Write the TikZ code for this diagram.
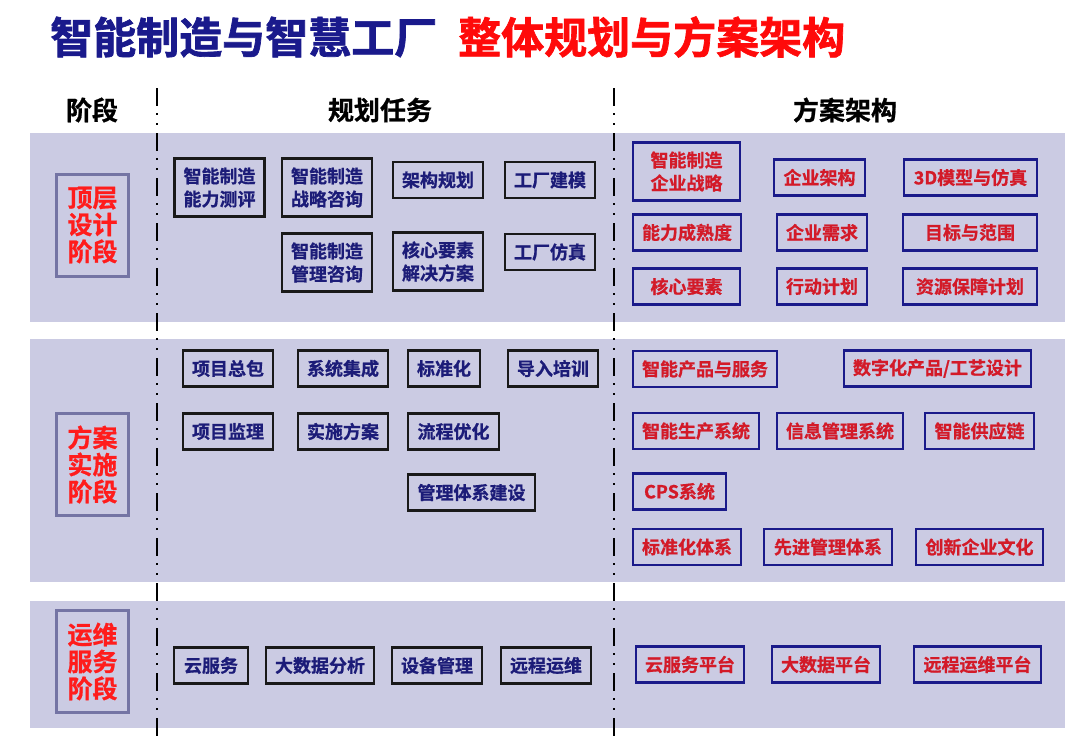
\documentclass[tikz,border=0pt]{standalone}
\usepackage{fontspec}
\setmainfont{Noto Sans CJK SC}[BoldFont={Noto Sans CJK SC Bold}]
\newfontfamily\heavyfont{Noto Sans CJK SC Bold}[FakeBold=1.6]
\newfontfamily\boxfont{Noto Sans CJK SC Bold}[FakeBold=0.8]
\usepackage{xcolor}

\definecolor{bandfill}{HTML}{CBCBE3}
\definecolor{stageline}{HTML}{7474A4}
\definecolor{stagered}{HTML}{FF1C1C}
\definecolor{tasknavy}{HTML}{1C1C78}
\definecolor{archred}{HTML}{D31A28}
\definecolor{archline}{HTML}{1A1A8A}
\definecolor{titleblue}{HTML}{1A1A8C}
\definecolor{titlered}{HTML}{FF0A0A}

\begin{document}
\begin{tikzpicture}[x=1pt, y=-1pt,
    band/.style={fill=bandfill, draw=none},
    divider/.style={line width=2pt, dash pattern=on 18pt off 7pt on 2pt off 8pt on 2pt off 8pt},
    stagebox/.style={draw=stageline, line width=3pt, fill=bandfill, text=stagered,
        font=\boxfont\fontsize{25}{27}\selectfont, align=center, inner sep=0pt,
        minimum width=72pt, minimum height=102pt},
    taskbox/.style={draw=black!90, line width=2.5pt, fill=bandfill, text=tasknavy,
        font=\boxfont\fontsize{18}{23}\selectfont, align=center, inner sep=0pt,
        minimum width=90pt, minimum height=36pt},
    archbox/.style={draw=archline, line width=2.5pt, fill=bandfill, text=archred,
        font=\boxfont\fontsize{18}{23}\selectfont, align=center, inner sep=0pt,
        minimum height=36pt},
    tall/.style={minimum height=58pt},
    header/.style={font=\boxfont\fontsize{26}{28}\selectfont}
]
    \useasboundingbox (0,0) rectangle (1080,748);

    % Title
    \node[anchor=west, text=titleblue, font=\heavyfont\fontsize{43}{44}\selectfont, inner sep=0pt]
        (titleL) at (50,37) {智能制造与智慧工厂};
    \node[anchor=west, text=titlered, font=\heavyfont\fontsize{43}{44}\selectfont, inner sep=0pt]
        (titleR) at (458,37) {整体规划与方案架构};

    % Column headers
    \node[header] (hStage) at (92,110) {阶段};
    \node[header] (hTask) at (380,110) {规划任务};
    \node[header] (hArch) at (845,110) {方案架构};

    % Bands
    \fill[band] (30,133) rectangle (1065,322);
    \fill[band] (30,339) rectangle (1065,582);
    \fill[band] (30,601) rectangle (1065,728);

    % Dividers
    \draw[divider] (157,88) -- (157,740);
    \draw[divider] (614,88) -- (614,740);

    % Stages
    \node[stagebox] (sTop) at (92.5,225) {顶层\\设计\\阶段};
    \node[stagebox] (sImpl) at (92.5,464.5) {方案\\实施\\阶段};
    \node[stagebox] (sOps) at (92.5,661.5) {运维\\服务\\阶段};

    % Tasks: top-level design
    \node[taskbox, tall] (tEval) at (219.5,187.5) {智能制造\\能力测评};
    \node[taskbox, tall] (tStrat) at (327,187.5) {智能制造\\战略咨询};
    \node[taskbox] (tArch) at (438,180) {架构规划};
    \node[taskbox] (tModel) at (550,180) {工厂建模};
    \node[taskbox, tall] (tMgmt) at (327,262.5) {智能制造\\管理咨询};
    \node[taskbox, tall] (tCore) at (438,261.5) {核心要素\\解决方案};
    \node[taskbox] (tSim) at (550,252) {工厂仿真};

    % Tasks: implementation
    \node[taskbox] (tEpc) at (228,368.5) {项目总包};
    \node[taskbox] (tInteg) at (343,368.5) {系统集成};
    \node[taskbox, minimum width=72pt] (tStd) at (444,368.5) {标准化};
    \node[taskbox] (tTrain) at (553,368.5) {导入培训};
    \node[taskbox] (tSuper) at (228,431.5) {项目监理};
    \node[taskbox] (tPlan) at (343,431.5) {实施方案};
    \node[taskbox, minimum width=91pt] (tFlow) at (453.5,431.5) {流程优化};
    \node[taskbox, minimum width=127pt] (tSys) at (471.5,492.5) {管理体系建设};

    % Tasks: operation
    \node[taskbox, minimum width=74pt] (tCloud) at (211,665.5) {云服务};
    \node[taskbox, minimum width=108pt] (tData) at (320,665.5) {大数据分析};
    \node[taskbox] (tDevice) at (437,665.5) {设备管理};
    \node[taskbox] (tRemote) at (546,665.5) {远程运维};

    % Architecture: top-level design
    \node[archbox, tall, minimum width=107pt] (aStrat) at (686.5,171.5) {智能制造\\企业战略};
    \node[archbox, minimum width=91pt] (aEnt) at (819.5,177.5) {企业架构};
    \node[archbox, minimum width=133pt] (a3d) at (970.5,177.5) {3D模型与仿真};
    \node[archbox, minimum width=108pt] (aMature) at (687,232.5) {能力成熟度};
    \node[archbox, minimum width=90pt] (aNeed) at (822,232.5) {企业需求};
    \node[archbox, minimum width=134pt] (aGoal) at (970,232.5) {目标与范围};
    \node[archbox, minimum width=107pt] (aCore) at (686.5,286.5) {核心要素};
    \node[archbox, minimum width=90pt] (aAction) at (822,286.5) {行动计划};
    \node[archbox, minimum width=134pt] (aRes) at (970,286.5) {资源保障计划};

    % Architecture: implementation
    \node[archbox, minimum width=144pt] (aProd) at (705,369) {智能产品与服务};
    \node[archbox, minimum width=187pt] (aDigi) at (937.5,368.5) {数字化产品/工艺设计};
    \node[archbox, minimum width=126pt] (aMfg) at (696,431) {智能生产系统};
    \node[archbox, minimum width=126pt] (aInfo) at (840,431) {信息管理系统};
    \node[archbox, minimum width=109pt] (aChain) at (979.5,431) {智能供应链};
    \node[archbox, minimum width=93pt] (aCps) at (679.5,491.5) {CPS系统};
    \node[archbox, minimum width=108pt] (aStd) at (687,547) {标准化体系};
    \node[archbox, minimum width=128pt] (aAdv) at (828,547) {先进管理体系};
    \node[archbox, minimum width=127pt] (aCult) at (979.5,547) {创新企业文化};

    % Architecture: operation
    \node[archbox, minimum width=108pt] (aCloud) at (690,664.5) {云服务平台};
    \node[archbox, minimum width=108pt] (aData) at (826,664.5) {大数据平台};
    \node[archbox, minimum width=127pt] (aRemote) at (977.5,664.5) {远程运维平台};

\end{tikzpicture}
\end{document}
